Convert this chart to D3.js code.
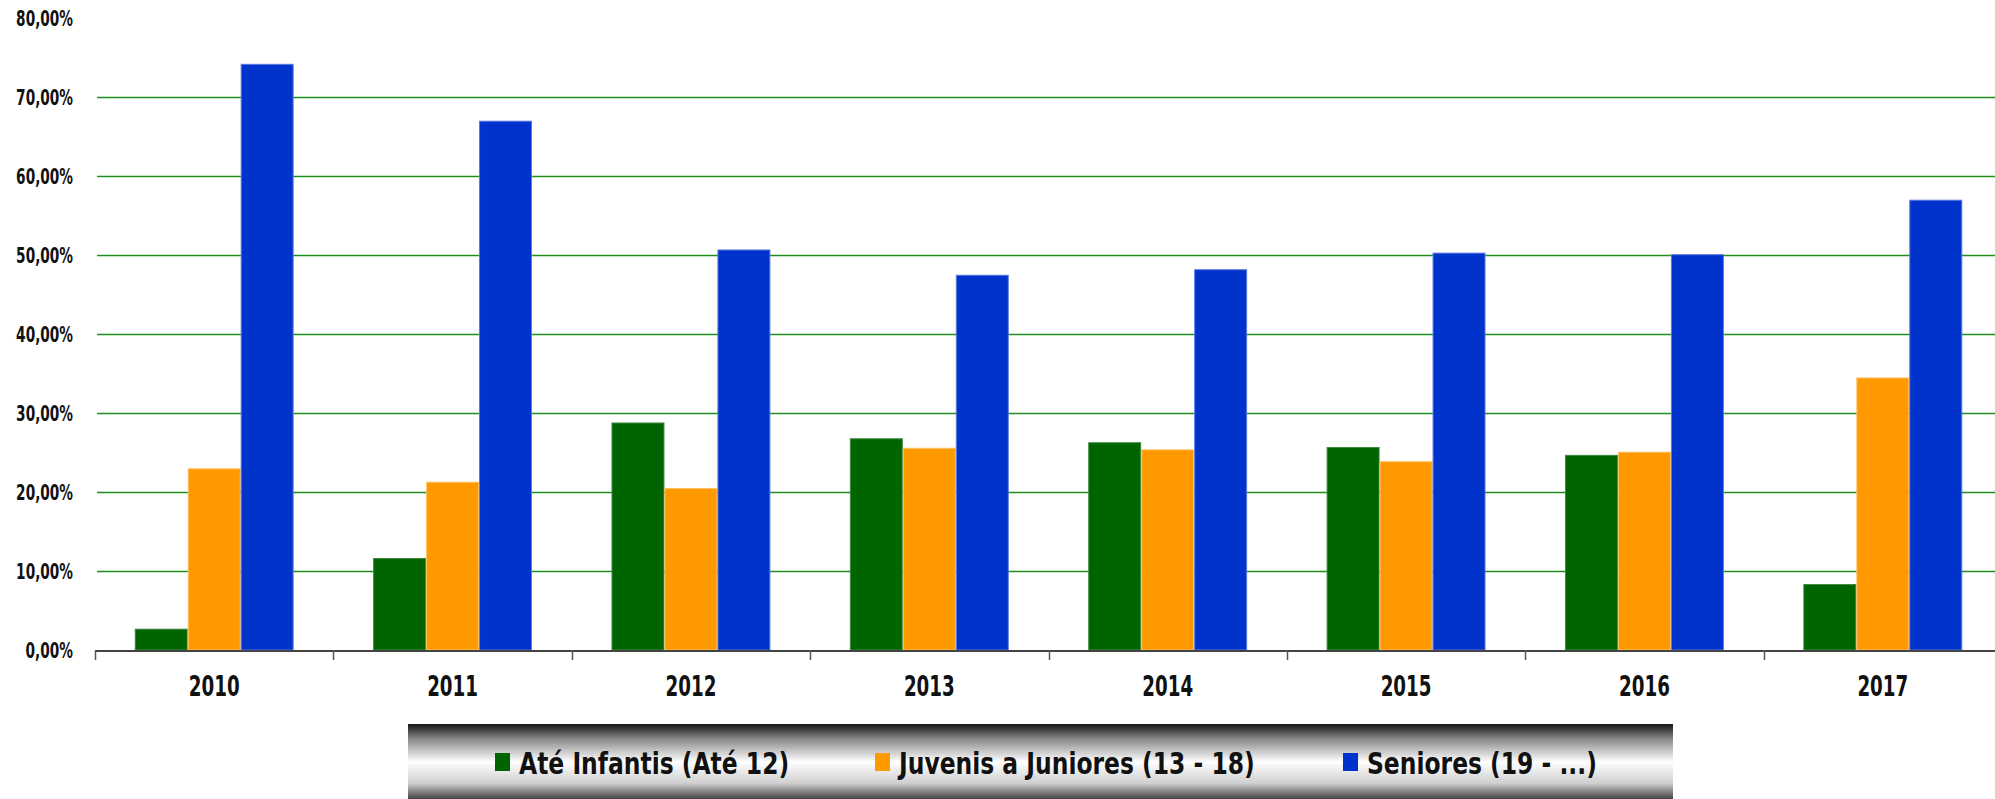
<!DOCTYPE html>
<html>
<head>
<meta charset="utf-8">
<script src="https://cdn.jsdelivr.net/npm/d3@7"></script>
<style>
  html, body { margin: 0; padding: 0; background: #fff; }
  svg { display: block; }
  .y-axis text { font-family: "Liberation Sans Narrow", "DejaVu Sans Condensed", sans-serif; font-weight: bold; font-size: 22px; fill: #111; }
  .x-label { font-family: "Liberation Sans Narrow", "DejaVu Sans Condensed", sans-serif; font-weight: 600; font-size: 29px; fill: #111; }
  .legend text { font-family: "Liberation Sans Narrow", "DejaVu Sans Condensed", sans-serif; font-weight: bold; font-size: 31px; fill: #111; }
</style>
</head>
<body>
<div id="chart"></div>
<script>
// data
const years = ['2010', '2011', '2012', '2013', '2014', '2015', '2016', '2017'];
const seriesNames = ['Até Infantis (Até 12)', 'Juvenis a Juniores (13 - 18)', 'Seniores (19 - ...)'];
const infantis = [2.7, 11.65, 28.8, 26.8, 26.3, 25.7, 24.7, 8.35];
const juvenis = [23.0, 21.3, 20.5, 25.6, 25.4, 23.9, 25.1, 34.5];
const seniores = [74.2, 67.0, 50.7, 47.5, 48.2, 50.3, 50.1, 57.0];
const yTicks = [0, 10, 20, 30, 40, 50, 60, 70, 80];

const colors = ['#006400', '#ff9900', '#0033cc'];
const edges = ['#3f8a3f', '#ffc266', '#5a78e0'];

const width = 1995, height = 799;
const margin = { left: 95, right: -7, top: 18, bottom: 149 };

// narrow the fallback font so it looks like the condensed face of the original
function squeeze(sel, factor) {
  sel.each(function() {
    const len = this.getComputedTextLength();
    d3.select(this)
      .attr('textLength', len * factor)
      .attr('lengthAdjust', 'spacingAndGlyphs');
  });
}

const svg = d3.select('#chart')
  .append('svg')
  .attr('width', width)
  .attr('height', height);

const values = [infantis, juvenis, seniores];
const rows = years.map((y, i) => ({ year: y, vals: values.map(v => v[i]) }));

const x0 = d3.scaleBand()
  .domain(years)
  .range([margin.left, width - margin.right])
  .padding(0);

const x1 = d3.scaleBand()
  .domain(d3.range(seriesNames.length))
  .range([0, x0.bandwidth()])
  .paddingInner(0)
  .paddingOuter(0.75);

const y = d3.scaleLinear()
  .domain([0, 80])
  .range([height - margin.bottom, margin.top]);

// grid lines
const grid = svg.append('g').attr('class', 'grid');
grid.selectAll('line')
  .data(yTicks.filter(t => t > 0 && t < 80))
  .enter()
  .append('line')
  .attr('x1', margin.left + 2)
  .attr('x2', width)
  .attr('y1', d => Math.round(y(d)) + 0.5)
  .attr('y2', d => Math.round(y(d)) + 0.5)
  .attr('stroke', '#1f8f1f')
  .attr('stroke-width', 1.3);

// y axis labels
const yAxis = d3.axisLeft(y)
  .tickValues(yTicks)
  .tickSize(0)
  .tickPadding(22)
  .tickFormat(d => d3.format('.2f')(d).replace('.', ',') + '%');

svg.append('g')
  .attr('class', 'y-axis')
  .attr('transform', `translate(${margin.left},0)`)
  .call(yAxis)
  .call(g => g.select('.domain').remove())
  .call(g => squeeze(g.selectAll('text'), 0.69));

// bars
const groups = svg.append('g').attr('class', 'bars')
  .selectAll('g')
  .data(rows)
  .enter()
  .append('g')
  .attr('transform', d => `translate(${x0(d.year)},0)`);

groups.selectAll('rect')
  .data(d => d.vals.map((v, i) => ({ i: i, v: v })))
  .enter()
  .append('rect')
  .attr('x', d => x1(d.i) + 0.5)
  .attr('width', x1.bandwidth() - 1)
  .attr('y', d => y(d.v) + 0.5)
  .attr('height', d => y(0) - y(d.v) - 0.5)
  .attr('fill', d => colors[d.i])
  .attr('stroke', d => edges[d.i])
  .attr('stroke-width', 1);

// x axis line + boundary ticks
const baseY = y(0);
svg.append('line')
  .attr('x1', margin.left)
  .attr('x2', width)
  .attr('y1', baseY + 1)
  .attr('y2', baseY + 1)
  .attr('stroke', '#444')
  .attr('stroke-width', 2);

svg.append('g').attr('class', 'x-ticks')
  .selectAll('line')
  .data(years)
  .enter()
  .append('line')
  .attr('x1', d => Math.round(x0(d)) + 0.5)
  .attr('x2', d => Math.round(x0(d)) + 0.5)
  .attr('y1', baseY)
  .attr('y2', baseY + 10)
  .attr('stroke', '#555')
  .attr('stroke-width', 1.5);

svg.append('g')
  .selectAll('text')
  .data(years)
  .enter()
  .append('text')
  .attr('class', 'x-label')
  .attr('x', d => x0(d) + x0.bandwidth() / 2)
  .attr('y', baseY + 46)
  .attr('text-anchor', 'middle')
  .text(d => d)
  .call(s => squeeze(s, 0.7));

// legend
const defs = svg.append('defs');
const grad = defs.append('linearGradient')
  .attr('id', 'legendGrad')
  .attr('x1', 0).attr('y1', 0).attr('x2', 0).attr('y2', 1);
grad.append('stop').attr('offset', '0%').attr('stop-color', '#151515');
grad.append('stop').attr('offset', '20%').attr('stop-color', '#8a8a8a');
grad.append('stop').attr('offset', '50%').attr('stop-color', '#ffffff');
grad.append('stop').attr('offset', '78%').attr('stop-color', '#cfcfcf');
grad.append('stop').attr('offset', '100%').attr('stop-color', '#3a3a3a');

const legend = svg.append('g').attr('class', 'legend');
legend.append('rect')
  .attr('x', 408)
  .attr('y', 724)
  .attr('width', 1265)
  .attr('height', 76)
  .attr('fill', 'url(#legendGrad)');

const legendX = [495, 875, 1343];
const item = legend.selectAll('g.item')
  .data(seriesNames)
  .enter()
  .append('g')
  .attr('class', 'item')
  .attr('transform', (d, i) => `translate(${legendX[i]},0)`);

item.append('rect')
  .attr('x', 0)
  .attr('y', 753)
  .attr('width', 15)
  .attr('height', 18)
  .attr('fill', (d, i) => colors[i]);

item.append('text')
  .attr('x', 24)
  .attr('y', 774)
  .text(d => d)
  .call(s => squeeze(s, 0.84));
</script>
</body>
</html>
